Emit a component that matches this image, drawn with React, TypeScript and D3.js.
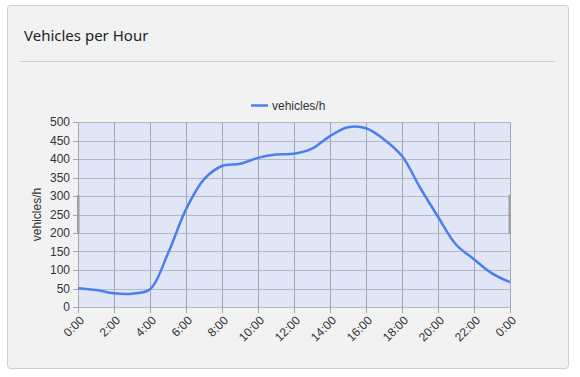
import React from "react";
import * as d3 from "d3";

const hours = [0,1,2,3,4,5,6,7,8,9,10,11,12,13,14,15,16,17,18,19,20,21,22,23,24];
const vehicles = [51,46,37,36,48,145,264,345,381,387,403,412,414,428,462,486,483,453,408,323,244,169,129,91,67];
const xTickHours = [0,2,4,6,8,10,12,14,16,18,20,22,24];
const xTickLabels = ["0:00","2:00","4:00","6:00","8:00","10:00","12:00","14:00","16:00","18:00","20:00","22:00","0:00"];
const yTicks = [0,50,100,150,200,250,300,350,400,450,500];
const title = "Vehicles per Hour";
const seriesName = "vehicles/h";

export default function App() {
  const W = 580, H = 377;
  const left = 78, right = 510, top = 122, bottom = 307;
  const x = d3.scaleLinear().domain([0, 24]).range([left, right]);
  const y = d3.scaleLinear().domain([0, 500]).range([bottom, top]);
  const line = d3.line<number>()
    .x((_, i) => x(hours[i]))
    .y((d) => y(d))
    .curve(d3.curveCatmullRom.alpha(0.5));
  const font = "'Liberation Sans', Arial, sans-serif";
  return (
    <svg width={W} height={H} style={{ position: "absolute", left: 0, top: 0 }}>
      <rect x={0} y={0} width={W} height={H} fill="#ffffff" />
      <rect x={7.5} y={5.5} width={561} height={363} rx={3} fill="#f2f2f2" stroke="#cfcfcf" />
      <text x={24} y={41} fontFamily="'Noto Sans', 'Open Sans', sans-serif" fontSize={15} fill="#222">{title}</text>
      <line x1={20} x2={555} y1={61.5} y2={61.5} stroke="#cccccc" />
      {/* legend */}
      <line x1={251} x2={268} y1={105.5} y2={105.5} stroke="#4a80ee" strokeWidth={2.5} />
      <text x={272} y={109.5} fontFamily={font} fontSize={12} fill="#333">{seriesName}</text>
      {/* plot area */}
      <rect x={left} y={top} width={right - left} height={bottom - top} fill="#e0e6f5" />
      {yTicks.map((t) => (
        <line key={"h" + t} x1={left} x2={right} y1={Math.round(y(t)) + 0.5} y2={Math.round(y(t)) + 0.5} stroke="#b3b8c6" />
      ))}
      {xTickHours.map((h, i) => (
        <line key={"v" + i} x1={Math.round(x(h)) + 0.5} x2={Math.round(x(h)) + 0.5} y1={top} y2={bottom + 6} stroke="#a3a7b3" />
      ))}
      {yTicks.map((t) => (
        <g key={"yt" + t}>
          <line x1={left - 5} x2={left} y1={Math.round(y(t)) + 0.5} y2={Math.round(y(t)) + 0.5} stroke="#a3a7b3" />
          <text x={left - 8} y={y(t)} dy="0.35em" textAnchor="end" fontFamily={font} fontSize={12} fill="#333">{t}</text>
        </g>
      ))}
      {xTickHours.map((h, i) => (
        <text key={"xt" + i} transform={`translate(${x(h) + 7},${bottom + 14}) rotate(-45)`} textAnchor="end" fontFamily={font} fontSize={12} fill="#333">{xTickLabels[i]}</text>
      ))}
      <text transform={`translate(41,${(top + bottom) / 2}) rotate(-90)`} textAnchor="middle" fontFamily={font} fontSize={12} fill="#333">{seriesName}</text>
      <path d={line(vehicles) || ""} fill="none" stroke="#4a80ee" strokeWidth={2.5} />
      {/* zoom handles */}
      <rect x={77} y={195} width={2.5} height={39} fill="#a0a0a0" />
      <rect x={508.5} y={195} width={2.5} height={39} fill="#a0a0a0" />
    </svg>
  );
}
